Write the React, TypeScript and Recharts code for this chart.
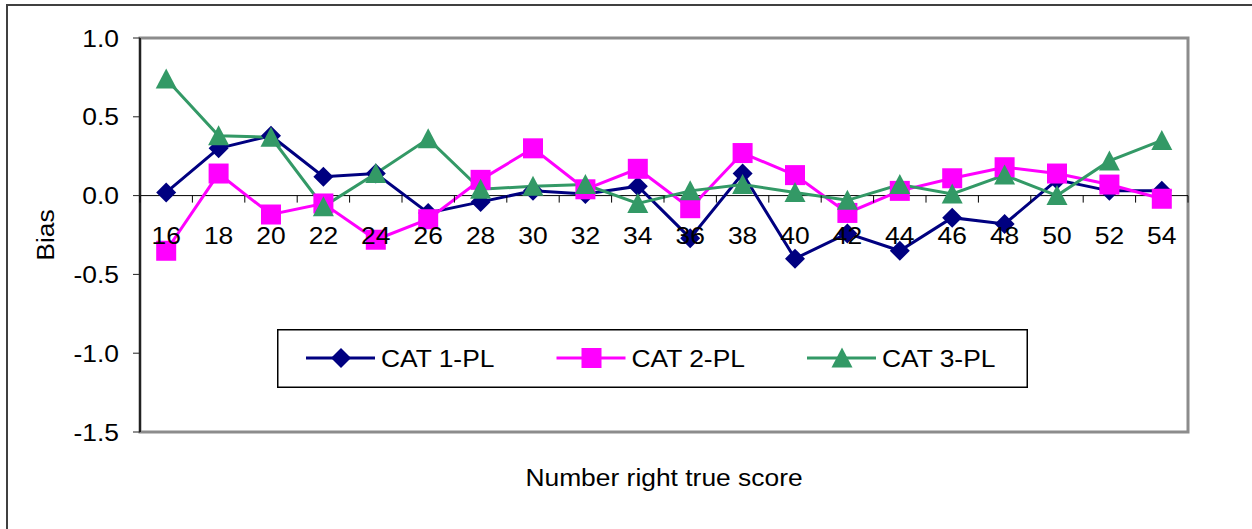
import { ComposedChart, Line, XAxis, YAxis, ReferenceLine, ReferenceArea, Legend } from 'recharts'

// number-right true score (x categories)
const scores = [16, 18, 20, 22, 24, 26, 28, 30, 32, 34, 36, 38, 40, 42, 44, 46, 48, 50, 52, 54]

// bias per true score for each CAT model
const cat1pl = [0.02, 0.3, 0.38, 0.12, 0.14, -0.11, -0.04, 0.03, 0.01, 0.06, -0.27, 0.14, -0.4, -0.24, -0.35, -0.14, -0.18, 0.1, 0.03, 0.03]
const cat2pl = [-0.35, 0.14, -0.12, -0.05, -0.28, -0.15, 0.1, 0.3, 0.04, 0.17, -0.08, 0.27, 0.13, -0.11, 0.03, 0.11, 0.18, 0.14, 0.07, -0.02]
const cat3pl = [0.74, 0.38, 0.37, -0.07, 0.14, 0.36, 0.04, 0.06, 0.07, -0.05, 0.03, 0.07, 0.02, -0.03, 0.07, 0.01, 0.13, 0.0, 0.22, 0.35]

const biasTicks = [-1.5, -1.0, -0.5, 0.0, 0.5, 1.0]

const data = scores.map((score, i) => ({
  score,
  cat1: cat1pl[i],
  cat2: cat2pl[i],
  cat3: cat3pl[i],
}))

const series = [
  { key: 'cat1', name: 'CAT 1-PL', color: '#000080', marker: 'diamond' },
  { key: 'cat2', name: 'CAT 2-PL', color: '#FF00FF', marker: 'square' },
  { key: 'cat3', name: 'CAT 3-PL', color: '#339966', marker: 'triangle' },
]

const WIDTH = 1252
const HEIGHT = 529
const PLOT = { left: 140, top: 38, right: 1188, bottom: 432 }
const Y_MIN = -1.5
const Y_MAX = 1.0
const zeroY = PLOT.top + ((PLOT.bottom - PLOT.top) * Y_MAX) / (Y_MAX - Y_MIN)
const band = (PLOT.right - PLOT.left) / scores.length
const FONT = '"Liberation Sans", Arial, sans-serif'

function Marker({ type, cx, cy, color }: { type: string; cx: number; cy: number; color: string }) {
  if (cx == null || cy == null) return null
  if (type === 'diamond') {
    const r = 10
    return <path d={`M${cx},${cy - r}L${cx + r},${cy}L${cx},${cy + r}L${cx - r},${cy}Z`} fill={color} />
  }
  if (type === 'square') {
    return <rect x={cx - 10} y={cy - 10} width={20} height={20} fill={color} />
  }
  return <path d={`M${cx},${cy - 10.5}L${cx + 10.5},${cy + 9.5}L${cx - 10.5},${cy + 9.5}Z`} fill={color} />
}

function ScoreTick(props: any) {
  const { x, payload, index } = props
  return (
    <g>
      <line x1={x - band / 2} x2={x - band / 2} y1={zeroY} y2={zeroY + 7} stroke="#000" />
      {index === scores.length - 1 && (
        <line x1={x + band / 2} x2={x + band / 2} y1={zeroY} y2={zeroY + 7} stroke="#000" />
      )}
      <text
        transform={`translate(${x},${zeroY + 48}) scale(1.1,1)`}
        textAnchor="middle"
        fontSize={24}
        fontFamily={FONT}
        fill="#000"
      >
        {payload.value}
      </text>
    </g>
  )
}

function BiasTick(props: any) {
  const { x, y, payload } = props
  return (
    <text
      transform={`translate(${x},${y + 8.5}) scale(1.1,1)`}
      textAnchor="end"
      fontSize={24}
      fontFamily={FONT}
      fill="#000"
    >
      {Number(payload.value).toFixed(1)}
    </text>
  )
}

function LegendBox() {
  return (
    <svg width={751} height={59}>
      <rect x={0.75} y={0.75} width={749.5} height={57.5} fill="#fff" stroke="#000" strokeWidth={1.5} />
      {series.map((s, i) => {
        const x0 = 29 + i * 250.5
        return (
          <g key={s.key}>
            <line x1={x0} x2={x0 + 69} y1={29} y2={29} stroke={s.color} strokeWidth={3} />
            <Marker type={s.marker} cx={x0 + 35} cy={29} color={s.color} />
            <text
              transform={`translate(${x0 + 75},${38}) scale(1.1,1)`}
              fontSize={24}
              fontFamily={FONT}
              fill="#000"
            >
              {s.name}
            </text>
          </g>
        )
      })}
    </svg>
  )
}

export default function App() {
  return (
    <div
      style={{
        position: 'absolute',
        left: 0,
        top: 0,
        width: WIDTH,
        height: HEIGHT,
        overflow: 'hidden',
        background: '#fff',
      }}
    >
      <div
        style={{
          position: 'absolute',
          left: 6,
          top: 4,
          width: 1300,
          height: 600,
          border: '2px solid #404040',
        }}
      />
      <ComposedChart
        width={WIDTH}
        height={HEIGHT}
        data={data}
        margin={{ top: PLOT.top, right: WIDTH - PLOT.right, bottom: HEIGHT - PLOT.bottom - 60, left: 0 }}
        style={{ position: 'absolute', left: 0, top: 0 }}
      >
        <ReferenceArea y1={Y_MIN} y2={Y_MAX} fill="none" stroke="#8c8c8c" strokeWidth={3} />
        <XAxis
          dataKey="score"
          type="category"
          scale="band"
          interval={0}
          axisLine={false}
          tickLine={false}
          height={60}
          tick={<ScoreTick />}
          label={{
            content: () => (
              <text
                transform={`translate(${(PLOT.left + PLOT.right) / 2},486) scale(1.1,1)`}
                textAnchor="middle"
                fontSize={24}
                fontFamily={FONT}
                fill="#000"
              >
                Number right true score
              </text>
            ),
          }}
        />
        <YAxis
          type="number"
          domain={[Y_MIN, Y_MAX]}
          ticks={biasTicks}
          width={PLOT.left}
          axisLine={{ stroke: '#222', strokeWidth: 2 }}
          tickLine={{ stroke: '#222' }}
          tickSize={7}
          tickMargin={14}
          tick={<BiasTick />}
          label={{
            content: () => (
              <text
                transform={`translate(54,${(PLOT.top + PLOT.bottom) / 2}) rotate(-90) scale(1.1,1)`}
                textAnchor="middle"
                fontSize={24}
                fontFamily={FONT}
                fill="#000"
              >
                Bias
              </text>
            ),
          }}
        />
        <ReferenceLine y={0} stroke="#000" strokeWidth={1} />
        {series.map((s) => (
          <Line
            key={s.key}
            dataKey={s.key}
            name={s.name}
            stroke={s.color}
            strokeWidth={3}
            isAnimationActive={false}
            activeDot={false}
            dot={(p: any) => (
              <Marker key={`${s.key}-${p.index}`} type={s.marker} cx={p.cx} cy={p.cy} color={s.color} />
            )}
          />
        ))}
        <Legend
          layout="horizontal"
          verticalAlign="middle"
          align="center"
          wrapperStyle={{ position: 'absolute', left: 277, top: 329, width: 751, height: 59 }}
          content={() => <LegendBox />}
        />
      </ComposedChart>
    </div>
  )
}
